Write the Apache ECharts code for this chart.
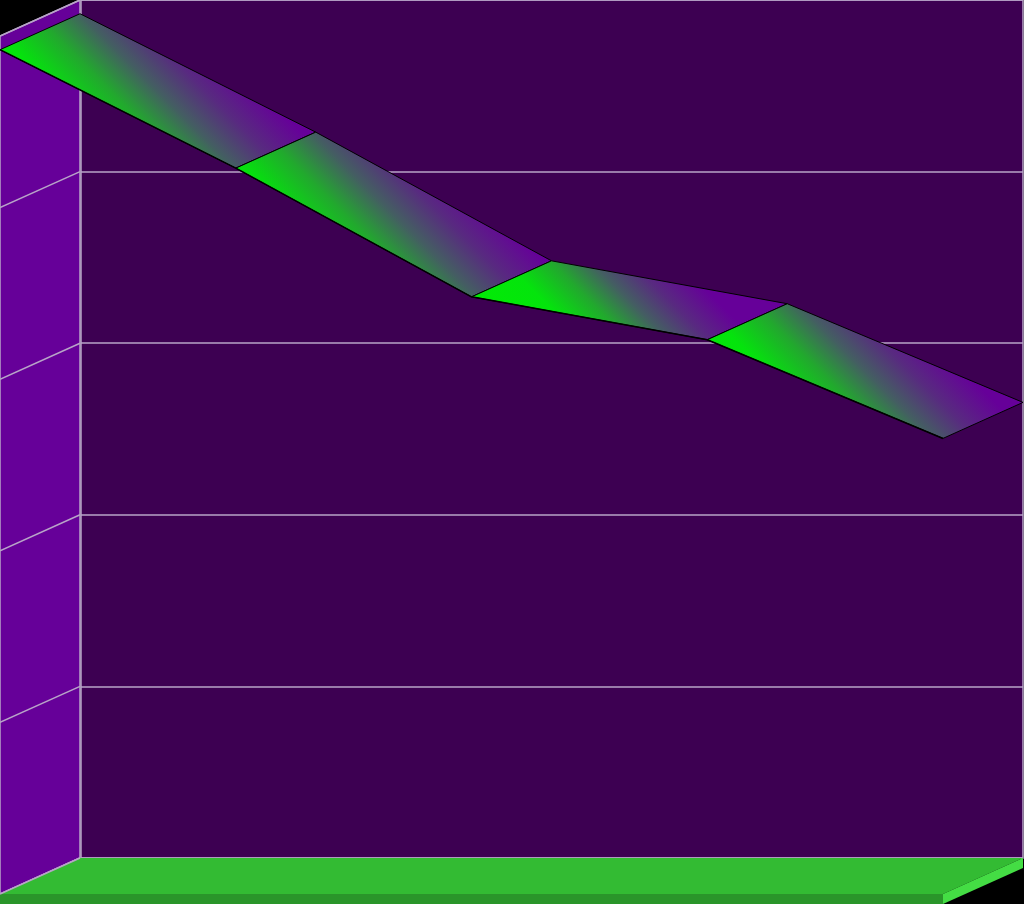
<!DOCTYPE html>
<html>
<head>
<meta charset="utf-8">
<script src="https://cdn.jsdelivr.net/npm/echarts@6/dist/echarts.min.js"></script>
<style>html,body{margin:0;padding:0;background:#000;}#c{width:1024px;height:904px;}</style>
</head>
<body>
<div id="c"></div>
<script>
const categories = ['1', '2', '3', '4', '5'];
const values = [98.4, 84.6, 69.6, 64.6, 53.1];
const yMin = 0, yMax = 100, yInterval = 20;
const yTicks = [0, 20, 40, 60, 80, 100];

const DX = 80, DY = 36, FLOOR = 10;
const light = '#b8a4c8';

const chart = echarts.init(document.getElementById('c'));

const ribbonData = [];
for (let i = 0; i < values.length - 1; i++) {
  ribbonData.push([i, values[i], i + 1, values[i + 1]]);
}

function envRender(params, api) {
  const last = categories.length - 1;
  const bl = api.coord([0, yMin]);
  const tl = api.coord([0, yMax]);
  const br = api.coord([last, yMin]);
  const children = [];
  children.push({
    type: 'polygon',
    shape: { points: [[bl[0], bl[1]], [tl[0], tl[1]], [tl[0] + DX, tl[1] - DY], [bl[0] + DX, bl[1] - DY]] },
    style: { fill: '#660099', stroke: light, lineWidth: 1.5 }
  });
  yTicks.forEach(function (v) {
    const p = api.coord([0, v]);
    children.push({
      type: 'line',
      shape: { x1: p[0], y1: p[1], x2: p[0] + DX, y2: p[1] - DY },
      style: { stroke: light, lineWidth: 1.5 }
    });
  });
  children.push({
    type: 'polygon',
    shape: { points: [[bl[0], bl[1]], [bl[0] + DX, bl[1] - DY], [br[0] + DX, br[1] - DY], [br[0], br[1]]] },
    style: { fill: '#33bb33' }
  });
  children.push({
    type: 'polygon',
    shape: { points: [[bl[0], bl[1]], [br[0], br[1]], [br[0], br[1] + FLOOR], [bl[0], bl[1] + FLOOR]] },
    style: { fill: '#2a952a' }
  });
  children.push({
    type: 'polygon',
    shape: { points: [[br[0], br[1]], [br[0] + DX, br[1] - DY], [br[0] + DX, br[1] - DY + FLOOR], [br[0], br[1] + FLOOR]] },
    style: { fill: '#44dd44' }
  });
  children.push({
    type: 'line',
    shape: { x1: bl[0], y1: bl[1], x2: bl[0] + DX, y2: bl[1] - DY },
    style: { stroke: light, lineWidth: 1.5 }
  });
  return { type: 'group', children: children };
}

function ribbonRender(params, api) {
  const f1 = api.coord([api.value(0), api.value(1)]);
  const f2 = api.coord([api.value(2), api.value(3)]);
  const b1 = [f1[0] + DX, f1[1] - DY];
  const b2 = [f2[0] + DX, f2[1] - DY];
  const pts = [f1, f2, b2, b1];
  const xs = pts.map(p => p[0]), ys = pts.map(p => p[1]);
  const xmin = Math.min.apply(null, xs), xmax = Math.max.apply(null, xs);
  const ymin = Math.min.apply(null, ys), ymax = Math.max.apply(null, ys);
  const cx = (xmin + xmax) / 2, cy = (ymin + ymax) / 2;
  const s = ((xmax - xmin) + (ymax - ymin)) / 4;
  const grad = new echarts.graphic.LinearGradient(cx - s, cy + s, cx + s, cy - s, [
    { offset: 0, color: '#00f000' },
    { offset: 0.28, color: '#04e40c' },
    { offset: 0.4, color: '#22a82e' },
    { offset: 0.5, color: '#445e62' },
    { offset: 0.6, color: '#582a80' },
    { offset: 0.72, color: '#660099' },
    { offset: 1, color: '#660099' }
  ], true);
  return {
    type: 'group',
    children: [{
      type: 'polygon',
      shape: { points: pts },
      style: { fill: grad, stroke: '#000', lineWidth: 1 }
    }, {
      type: 'line',
      shape: { x1: f1[0], y1: f1[1], x2: f2[0], y2: f2[1] },
      style: { stroke: '#000', lineWidth: 1.6 }
    }]
  };
}

chart.setOption({
  backgroundColor: '#000',
  animation: false,
  grid: [
    { left: 0, top: 36, width: 943, height: 858, show: false },
    { left: 81, top: 0, width: 942, height: 858, show: true, backgroundColor: '#3d0052', borderColor: light, borderWidth: 1.5 }
  ],
  xAxis: [
    { gridIndex: 0, type: 'category', data: categories, boundaryGap: false, show: false },
    { gridIndex: 1, type: 'category', data: categories, boundaryGap: false, show: false }
  ],
  yAxis: [
    { gridIndex: 0, type: 'value', min: yMin, max: yMax, interval: yInterval, show: false },
    { gridIndex: 1, type: 'value', min: yMin, max: yMax, interval: yInterval, show: true,
      axisLine: { show: false }, axisTick: { show: false }, axisLabel: { show: false },
      splitLine: { show: true, lineStyle: { color: light, width: 1.5 } } }
  ],
  series: [
    { type: 'custom', xAxisIndex: 0, yAxisIndex: 0, z: 1, clip: false, renderItem: envRender, data: [[0, 0]], silent: true },
    { type: 'custom', xAxisIndex: 0, yAxisIndex: 0, z: 3, clip: false, renderItem: ribbonRender, data: ribbonData, silent: true }
  ]
});
</script>
</body>
</html>
